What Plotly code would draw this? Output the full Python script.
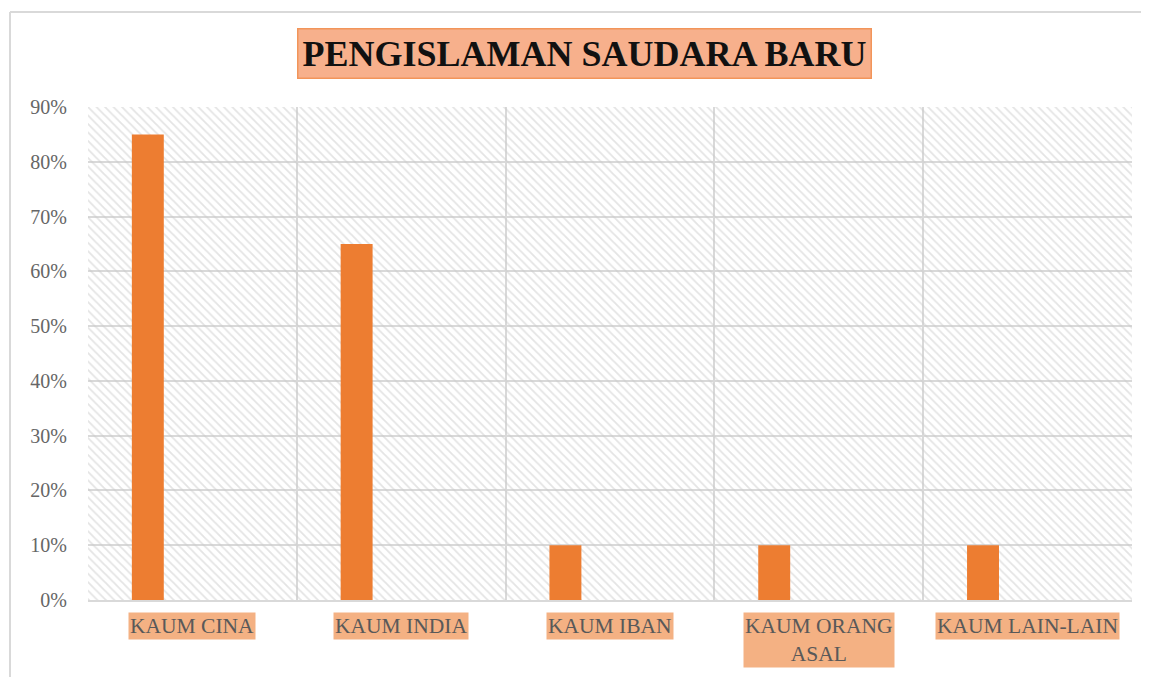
import plotly.graph_objects as go

categories = ["KAUM CINA", "KAUM INDIA", "KAUM IBAN", "KAUM ORANG ASAL", "KAUM LAIN-LAIN"]
label_text = ["KAUM CINA", "KAUM INDIA", "KAUM IBAN", "KAUM ORANG<br>ASAL", "KAUM LAIN-LAIN"]
values = [0.85, 0.65, 0.10, 0.10, 0.10]
y_ticks = [0, 0.1, 0.2, 0.3, 0.4, 0.5, 0.6, 0.7, 0.8, 0.9]
y_max = 0.9
title = "PENGISLAMAN SAUDARA BARU"

OFF = 8  # page body margin
W, H = 1149 - OFF, 677 - OFF
L, R, T, B = 88 - OFF, 1132 - OFF, 107 - OFF, 600 - OFF

fig = go.Figure()

# hatched plot-area background
fig.add_trace(go.Bar(
    x=categories, y=[y_max] * len(categories), width=1,
    marker=dict(color="rgba(0,0,0,0)", line=dict(width=0),
                pattern=dict(shape="\\", fgcolor="#cacaca", bgcolor="rgba(0,0,0,0)",
                             size=6, solidity=0.3, fillmode="overlay")),
    hoverinfo="skip", showlegend=False,
))

fig.add_trace(go.Bar(
    x=categories, y=values, width=0.153, offset=-0.29,
    marker=dict(color="#ED7D31", line=dict(width=0)),
    showlegend=False,
))

fig.update_layout(
    width=W, height=H,
    margin=dict(l=L, r=W - R, t=T, b=H - B),
    paper_bgcolor="white", plot_bgcolor="white",
    barmode="overlay",
    xaxis=dict(
        type="category", tickson="boundaries", showgrid=True,
        gridcolor="#d9d9d9", gridwidth=2, showticklabels=False,
        ticks="", showline=True, linecolor="#d9d9d9", linewidth=2,
        mirror=False, range=[-0.5, 4.5], zeroline=False,
    ),
    yaxis=dict(
        range=[0, y_max], tickvals=y_ticks, tickformat=".0%",
        showgrid=True, gridcolor="#d9d9d9", gridwidth=2, zeroline=False,
        showline=False, ticks="outside", ticklen=16, tickcolor="rgba(0,0,0,0)",
        tickfont=dict(family="Liberation Serif", size=20, color="#666666"),
    ),
    font=dict(family="Liberation Serif"),
)

# outer chart border (left and top visible)
px = lambda v: (v - OFF - L) / (R - L)
py = lambda v: (B - (v - OFF)) / (B - T)
fig.add_shape(type="line", xref="paper", yref="paper",
              x0=px(10), x1=px(10), y0=py(12), y1=py(700),
              line=dict(color="#d9d9d9", width=2))
fig.add_shape(type="line", xref="paper", yref="paper",
              x0=px(10), x1=px(1170), y0=py(12), y1=py(12),
              line=dict(color="#d9d9d9", width=2))

# title box
fig.add_annotation(
    text="<b>" + title + "</b>", xref="paper", yref="paper",
    x=px(584), y=py(53), xanchor="center", yanchor="middle", showarrow=False,
    font=dict(family="Liberation Serif", size=36, color="#111111"),
    bgcolor="#F7B08C", bordercolor="#F2955A", borderwidth=1.5, borderpad=4,
)

# category labels with filled background
for cat, txt in zip(categories, label_text):
    fig.add_annotation(
        x=cat, xref="x", yref="paper", y=py(612), yanchor="top",
        text=txt, showarrow=False, align="center",
        font=dict(family="Liberation Serif", size=21.5, color="#595959"),
        bgcolor="#F4B183", borderpad=1,
    )

fig.write_html("out.html")
